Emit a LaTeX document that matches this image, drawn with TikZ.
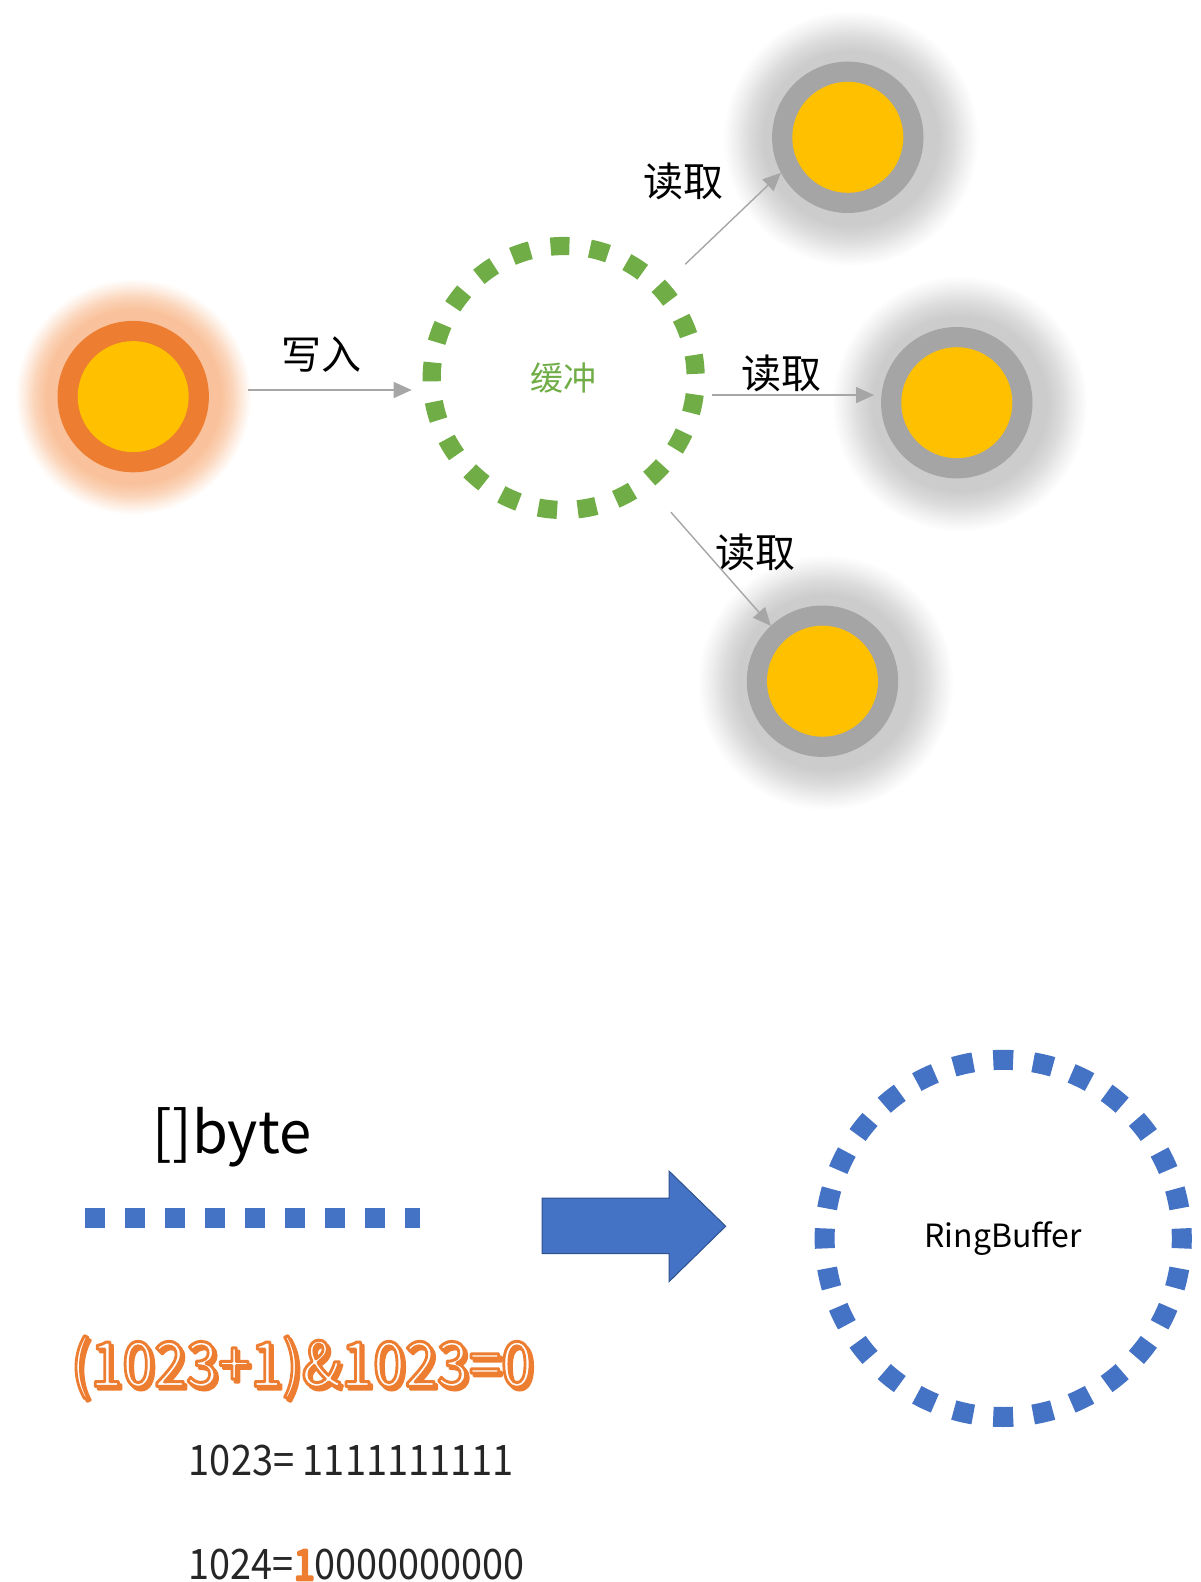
\documentclass[tikz,border=0pt]{standalone}
\usepackage{fontspec}
\setmainfont{Noto Sans CJK SC}
\usetikzlibrary{arrows.meta,backgrounds,calc}
\definecolor{orangeC}{HTML}{ED7D31}
\definecolor{yellowC}{HTML}{FFC000}
\definecolor{grayC}{HTML}{A5A5A5}
\definecolor{greenC}{HTML}{70AD47}
\definecolor{blueC}{HTML}{4472C4}
\definecolor{blueEdge}{HTML}{2F528F}
\definecolor{arrowC}{HTML}{A6A6A6}
\definecolor{glowO}{RGB}{249,194,156}
\definecolor{glowOa}{RGB}{251,212,185}
\definecolor{glowOb}{RGB}{253,235,222}
\definecolor{glowG}{RGB}{204,204,204}
\definecolor{glowGa}{RGB}{220,220,220}
\definecolor{glowGb}{RGB}{239,239,239}
\pgfdeclareradialshading{orangeglow}{\pgfpoint{0bp}{0bp}}{color(0bp)=(glowO); color(18.5bp)=(glowO); color(21bp)=(glowOa); color(23bp)=(glowOb); color(25bp)=(white); color(50bp)=(white)}
\pgfdeclareradialshading{grayglow}{\pgfpoint{0bp}{0bp}}{color(0bp)=(glowG); color(17bp)=(glowG); color(20bp)=(glowGa); color(22.5bp)=(glowGb); color(25bp)=(white); color(50bp)=(white)}
\newcommand\strokedtext[1]{%
  \rlap{\raisebox{-3pt}{\hspace{3pt}\color{orangeC}\special{pdf:literal direct 0.929 0.490 0.192 RG 2 Tr 2.6 w 1 j}#1\special{pdf:literal direct 0 Tr}}}%
  {\color{white}\special{pdf:literal direct 0.929 0.490 0.192 RG 2 Tr 3 w 1 j}#1\special{pdf:literal direct 0 Tr}}}
\newcommand\boldone[1]{{\color{orangeC}\special{pdf:literal direct 0.929 0.490 0.192 RG 2 Tr 3 w 1 j}#1\special{pdf:literal direct 0 Tr}}}
\begin{document}
\begin{tikzpicture}[x=1pt,y=-1pt,
  sunnode/.style={circle, inner sep=0pt, outer sep=0pt, minimum size=151.4pt, fill=#1,
    path picture={\fill[yellowC] (path picture bounding box.center) circle[radius=55.5];}},
  arr/.style={draw=arrowC, line width=1.4pt, -{Triangle[length=18pt, width=16pt]}},
  cjklabel/.style={font=\fontsize{40}{44}\selectfont, text=black, inner sep=0pt},
  gdash/.style={line width=18.2pt, draw=greenC},
  bdash/.style={line width=20pt, draw=blueC}]
\useasboundingbox (0,0) rectangle (1200,1582);
% ---------- top part ----------
\node[sunnode=orangeC] (sun) at (133.2,396.6) {};
\node[sunnode=grayC] (g1) at (847.8,137.3) {};
\node[sunnode=grayC] (g2) at (956.8,402.7) {};
\node[sunnode=grayC] (g3) at (822.5,681.2) {};
\begin{pgfonlayer}{background}
  \shade[shading=orangeglow] (sun.center) circle[radius=118];
  \shade[shading=grayglow] ($(g1.center)+(3,1)$) circle[radius=128];
  \shade[shading=grayglow] ($(g2.center)+(3,1)$) circle[radius=128];
  \shade[shading=grayglow] ($(g3.center)+(3,1)$) circle[radius=128];
\end{pgfonlayer}
\node[circle, minimum size=280pt, inner sep=0pt, outer sep=0pt, text=greenC,
  font=\fontsize{33}{36}\selectfont] (buf) at (563.7,378) {缓冲};
\foreach \k in {0,...,20} {
  \pgfmathsetmacro\a{-5.9+\k*360/21}
  \draw[gdash] ($(buf.center)+({\a-4.1}:132)$) arc[start angle=\a-4.1, end angle=\a+4.1, radius=132];
}
\draw[arr] ($(sun.5.3)+(39.7,0)$) -- ($(sun.5.3 -| buf.west)+(-12,0)$);
\draw[arr, shorten <=26.4pt] (buf.43.5) -- (g1.208.7);
\draw[arr] ($(buf.-7.2)+(9,0)$) -- ($(buf.-7.2 -| g2.west)+(-7,0)$);
\draw[arr, shorten <=31.8pt] (buf.-52.2) -- (g3.133.4);
\node[cjklabel] (lw) at (321,355) {写入};
\node[cjklabel] (lr1) at (683.3,181.7) {读取};
\node[cjklabel] (lr2) at (781.2,373.4) {读取};
\node[cjklabel] (lr3) at (755,552) {读取};
% ---------- bottom part ----------
\node[font=\fontsize{58}{64}\selectfont, inner sep=0pt] (bt) at (232,1137.5) {[]byte};
\foreach \k in {0,...,7} {
  \fill[blueC] ({95+40*\k-10},1208) rectangle ++(20,19.5);
}
\fill[blueC] (405,1208) rectangle ++(15,19.5);
\filldraw[fill=blueC, draw=blueEdge, line width=1pt]
  (542,1198) -- (669,1198) -- (669,1171) -- (725.7,1226.2) -- (669,1281.7) -- (669,1253.5) -- (542,1253.5) -- cycle;
\node[circle, minimum size=377pt, inner sep=0pt, outer sep=0pt,
  font=\fontsize{32}{36}\selectfont] (ring) at (1003.2,1238.4) {RingBuffer};
\foreach \k in {0,...,27} {
  \pgfmathsetmacro\a{-90+\k*360/28}
  \draw[bdash] ($(ring.center)+({\a-3.2}:178.6)$) arc[start angle=\a-3.2, end angle=\a+3.2, radius=178.6];
}
\node[font=\fontsize{62}{66}\selectfont, inner sep=0pt] (eq) at (301.8,1368.6) {\scalebox{0.93}[1]{\strokedtext{(1023+1)\&1023=0}}};
\node[font=\fontsize{42}{46}\selectfont, text=black!85, inner sep=0pt, anchor=west] (b1) at (188.7,1460.4) {\scalebox{0.905}[1]{1023= 1111111111}};
\node[font=\fontsize{42}{46}\selectfont, text=black!85, inner sep=0pt, anchor=west] (b2) at (188.7,1565) {\scalebox{0.9}[1]{1024=\boldone{1}0000000000}};
\end{tikzpicture}
\end{document}
